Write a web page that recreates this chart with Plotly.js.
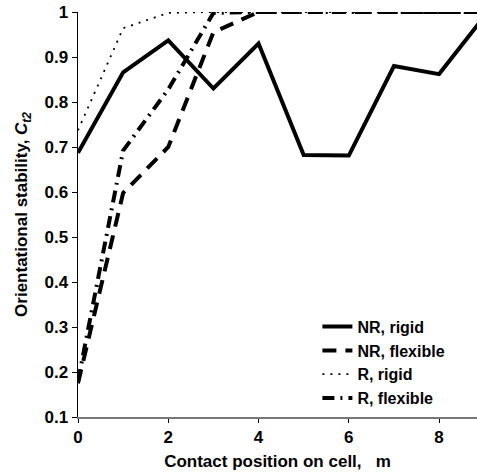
<!DOCTYPE html>
<html>
<head>
<meta charset="utf-8">
<script src="https://cdn.plot.ly/plotly-3.0.1.min.js"></script>
<style>html,body{margin:0;padding:0;background:#fff;}#chart{width:477px;height:474px;}</style>
</head>
<body>
<div id="chart"></div>
<script>
const positions = [0, 1, 2, 3, 4, 5, 6, 7, 8, 9];
const nrRigid    = [0.687, 0.866, 0.937, 0.830, 0.930, 0.682, 0.681, 0.880, 0.862, 0.99];
const nrFlexible = [0.175, 0.598, 0.700, 0.955, 1.0, 1.0, 1.0, 1.0, 1.0, 1.0];
const rRigid     = [0.737, 0.964, 0.998, 1.0, 1.0, 1.0, 1.0, 1.0, 1.0, 1.0];
const rFlexible  = [0.180, 0.692, 0.828, 0.998, 1.0, 1.0, 1.0, 1.0, 1.0, 1.0];
const seriesNames = ['NR, rigid', 'NR, flexible', 'R, rigid', 'R, flexible'];
const yTickVals = [0.1, 0.2, 0.3, 0.4, 0.5, 0.6, 0.7, 0.8, 0.9, 1.0];
const yTickText = ['0.1', '0.2', '0.3', '0.4', '0.5', '0.6', '0.7', '0.8', '0.9', '1'];
const xTickVals = [0, 2, 4, 6, 8];
const xTickText = ['0', '2', '4', '6', '8'];

const FONT = 'Liberation Sans, Arial, Helvetica, sans-serif';
const b = s => '<b>' + s + '</b>';
const traces = [
  {x: positions, y: nrRigid, name: b(seriesNames[0]), mode: 'lines',
   line: {color: '#000', width: 4, dash: 'solid'}},
  {x: positions, y: nrFlexible, name: b(seriesNames[1]), mode: 'lines',
   line: {color: '#000', width: 4, dash: '14px,9px'}},
  {x: positions, y: rRigid, name: b(seriesNames[2]), mode: 'lines',
   line: {color: '#000', width: 1.8, dash: '2px,6px'}},
  {x: positions, y: rFlexible, name: b(seriesNames[3]), mode: 'lines',
   line: {color: '#000', width: 4, dash: '12px,6px,2px,6px'}}
];

const layout = {
  width: 477, height: 474,
  margin: {l: 78, r: 0, t: 12, b: 57, pad: 0},
  paper_bgcolor: '#fff', plot_bgcolor: '#fff',
  font: {family: FONT, size: 17, color: '#000'},
  showlegend: true,
  legend: {x: 0.6, y: 0.265, xanchor: 'left', yanchor: 'top',
    bgcolor: 'rgba(0,0,0,0)', font: {family: FONT, size: 16},
    tracegroupgap: 0, itemwidth: 30},
  xaxis: {range: [0, 8.84], tickvals: xTickVals, ticktext: xTickText.map(b), ticks: 'outside', ticklen: 4,
    tickcolor: '#000', showline: true, linecolor: '#777', linewidth: 1.5,
    showgrid: false, zeroline: false, tickfont: {family: FONT, size: 17},
    title: {text: b('Contact position on cell,\u00a0\u00a0\u00a0m'), font: {family: FONT, size: 17}, standoff: 9}},
  yaxis: {range: [0.1, 1.0], tickvals: yTickVals, ticktext: yTickText.map(b), ticks: 'outside',
    ticklen: 5, tickcolor: '#000', showline: true, linecolor: '#000', linewidth: 1.5,
    showgrid: false, zeroline: false, tickfont: {family: FONT, size: 17},
    title: {text: b('Orientational stability, <i>C</i><sub><i>t2</i></sub>'), font: {family: FONT, size: 17}, standoff: 12}}
};

Plotly.newPlot('chart', traces, layout, {displayModeBar: false, staticPlot: true});
</script>
</body>
</html>
